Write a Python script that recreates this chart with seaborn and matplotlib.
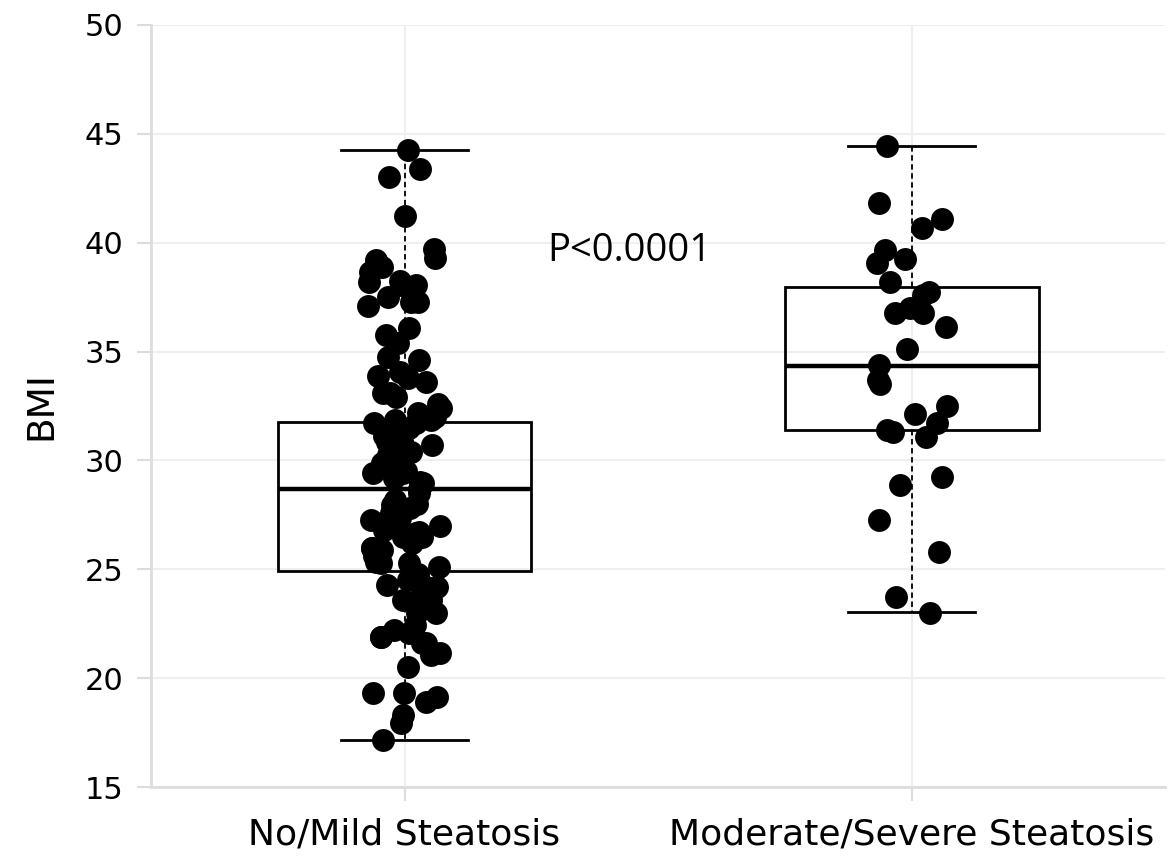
"""BMI by steatosis grade: box plot with jittered points"""

import numpy as np
import pandas as pd
import matplotlib
matplotlib.use("Agg")
import matplotlib.pyplot as plt
import seaborn as sns

categories = ["No/Mild Steatosis", "Moderate/Severe Steatosis"]

# BMI values
bmi_mild = [
    44.26, 43.37, 43.0, 41.23, 39.70, 39.29, 39.2, 38.9, 38.67, 38.25, 38.2,
    38.06, 38.06, 37.52, 37.29, 37.29, 37.1, 36.08, 35.76, 35.4, 34.75, 34.6,
    34.06, 33.9, 33.8, 33.6, 33.1, 33.1, 32.9, 32.6, 32.4, 32.2, 32.0, 31.86,
    31.86, 31.7, 31.7, 31.5, 31.26, 31.1, 30.9, 30.9, 30.85, 30.8, 30.7, 30.7,
    30.4, 30.25, 30.16, 30.0, 29.9, 29.8, 29.5, 29.4, 29.4, 29.2, 29.0, 28.96,
    28.7, 28.5, 28.2, 28.0, 27.95, 27.8, 27.6, 27.36, 27.26, 27.17, 27.0, 26.8,
    26.7, 26.65, 26.5, 26.5, 26.2, 26.0, 25.98, 25.9, 25.75, 25.6, 25.35, 25.3,
    25.3, 25.1, 24.8, 24.5, 24.4, 24.3, 24.2, 24.14, 23.9, 23.6, 23.6, 23.45,
    23.0, 23.0, 22.44, 22.2, 22.07, 21.9, 21.9, 21.6, 21.6, 21.15, 21.06, 20.5,
    19.3, 19.3, 19.13, 18.9, 18.3, 17.94, 17.15,
]
bmi_severe = [
    44.44, 41.83, 41.09, 40.68, 39.67, 39.25, 39.07, 38.2, 37.74, 37.6, 37.0,
    36.77, 36.77, 36.13, 35.1, 34.38, 33.7, 33.5, 32.5, 32.13, 31.72, 31.4,
    31.3, 31.08, 29.24, 28.87, 27.26, 25.8, 23.73, 23.0,
]

# box statistics (as drawn in the original)
q1 = [24.92, 31.4]
median = [28.69, 34.34]
q3 = [31.77, 37.97]
whisker_low = [17.15, 23.03]
whisker_high = [44.25, 44.44]

p_text = "P<0.0001"
yticks = [15, 20, 25, 30, 35, 40, 45, 50]

df = pd.DataFrame({
    "group": [categories[0]] * len(bmi_mild) + [categories[1]] * len(bmi_severe),
    "BMI": bmi_mild + bmi_severe,
})

fig = plt.figure(figsize=(11.7, 8.56), dpi=100)
ax = fig.add_axes([0.129, 0.0806, 0.867, 0.8902])

np.random.seed(3)
sns.stripplot(data=df, x="group", y="BMI", order=categories, jitter=0.075,
              color="black", size=16.5, linewidth=0, ax=ax, zorder=3)

stats = []
for i, name in enumerate(categories):
    stats.append({"label": name, "q1": q1[i], "med": median[i], "q3": q3[i],
                  "whislo": whisker_low[i], "whishi": whisker_high[i],
                  "fliers": []})
ax.bxp(stats, positions=[0, 1], widths=0.5, capwidths=0.25, showfliers=False,
       patch_artist=True, manage_ticks=False,
       boxprops=dict(facecolor="none", edgecolor="black", linewidth=2),
       medianprops=dict(color="black", linewidth=3.2),
       whiskerprops=dict(color="black", linewidth=1.3, linestyle=(0, (3, 2))),
       capprops=dict(color="black", linewidth=2))

ax.text(0.282, 39.6, p_text, fontsize=27.5, family="Open Sans",
        ha="left", va="center")

ax.set_xlim(-0.5, 1.5)
ax.set_ylim(15, 50)
ax.set_yticks(yticks)
ax.set_xticks([0, 1])
ax.set_xticklabels(categories)
ax.set_xlabel("")
ax.set_ylabel("BMI", fontsize=27, labelpad=18)

ax.grid(True, color="#efefef", linewidth=1.5)
ax.set_axisbelow(True)
for side in ["top", "right"]:
    ax.spines[side].set_visible(False)
for side in ["left", "bottom"]:
    ax.spines[side].set_color("#dddddd")
    ax.spines[side].set_linewidth(2)
ax.tick_params(axis="both", color="#dddddd", length=10, width=1.5)
ax.tick_params(axis="y", labelsize=22, pad=10)
ax.tick_params(axis="x", labelsize=26, pad=12)

fig.savefig("out.png", dpi=100)
